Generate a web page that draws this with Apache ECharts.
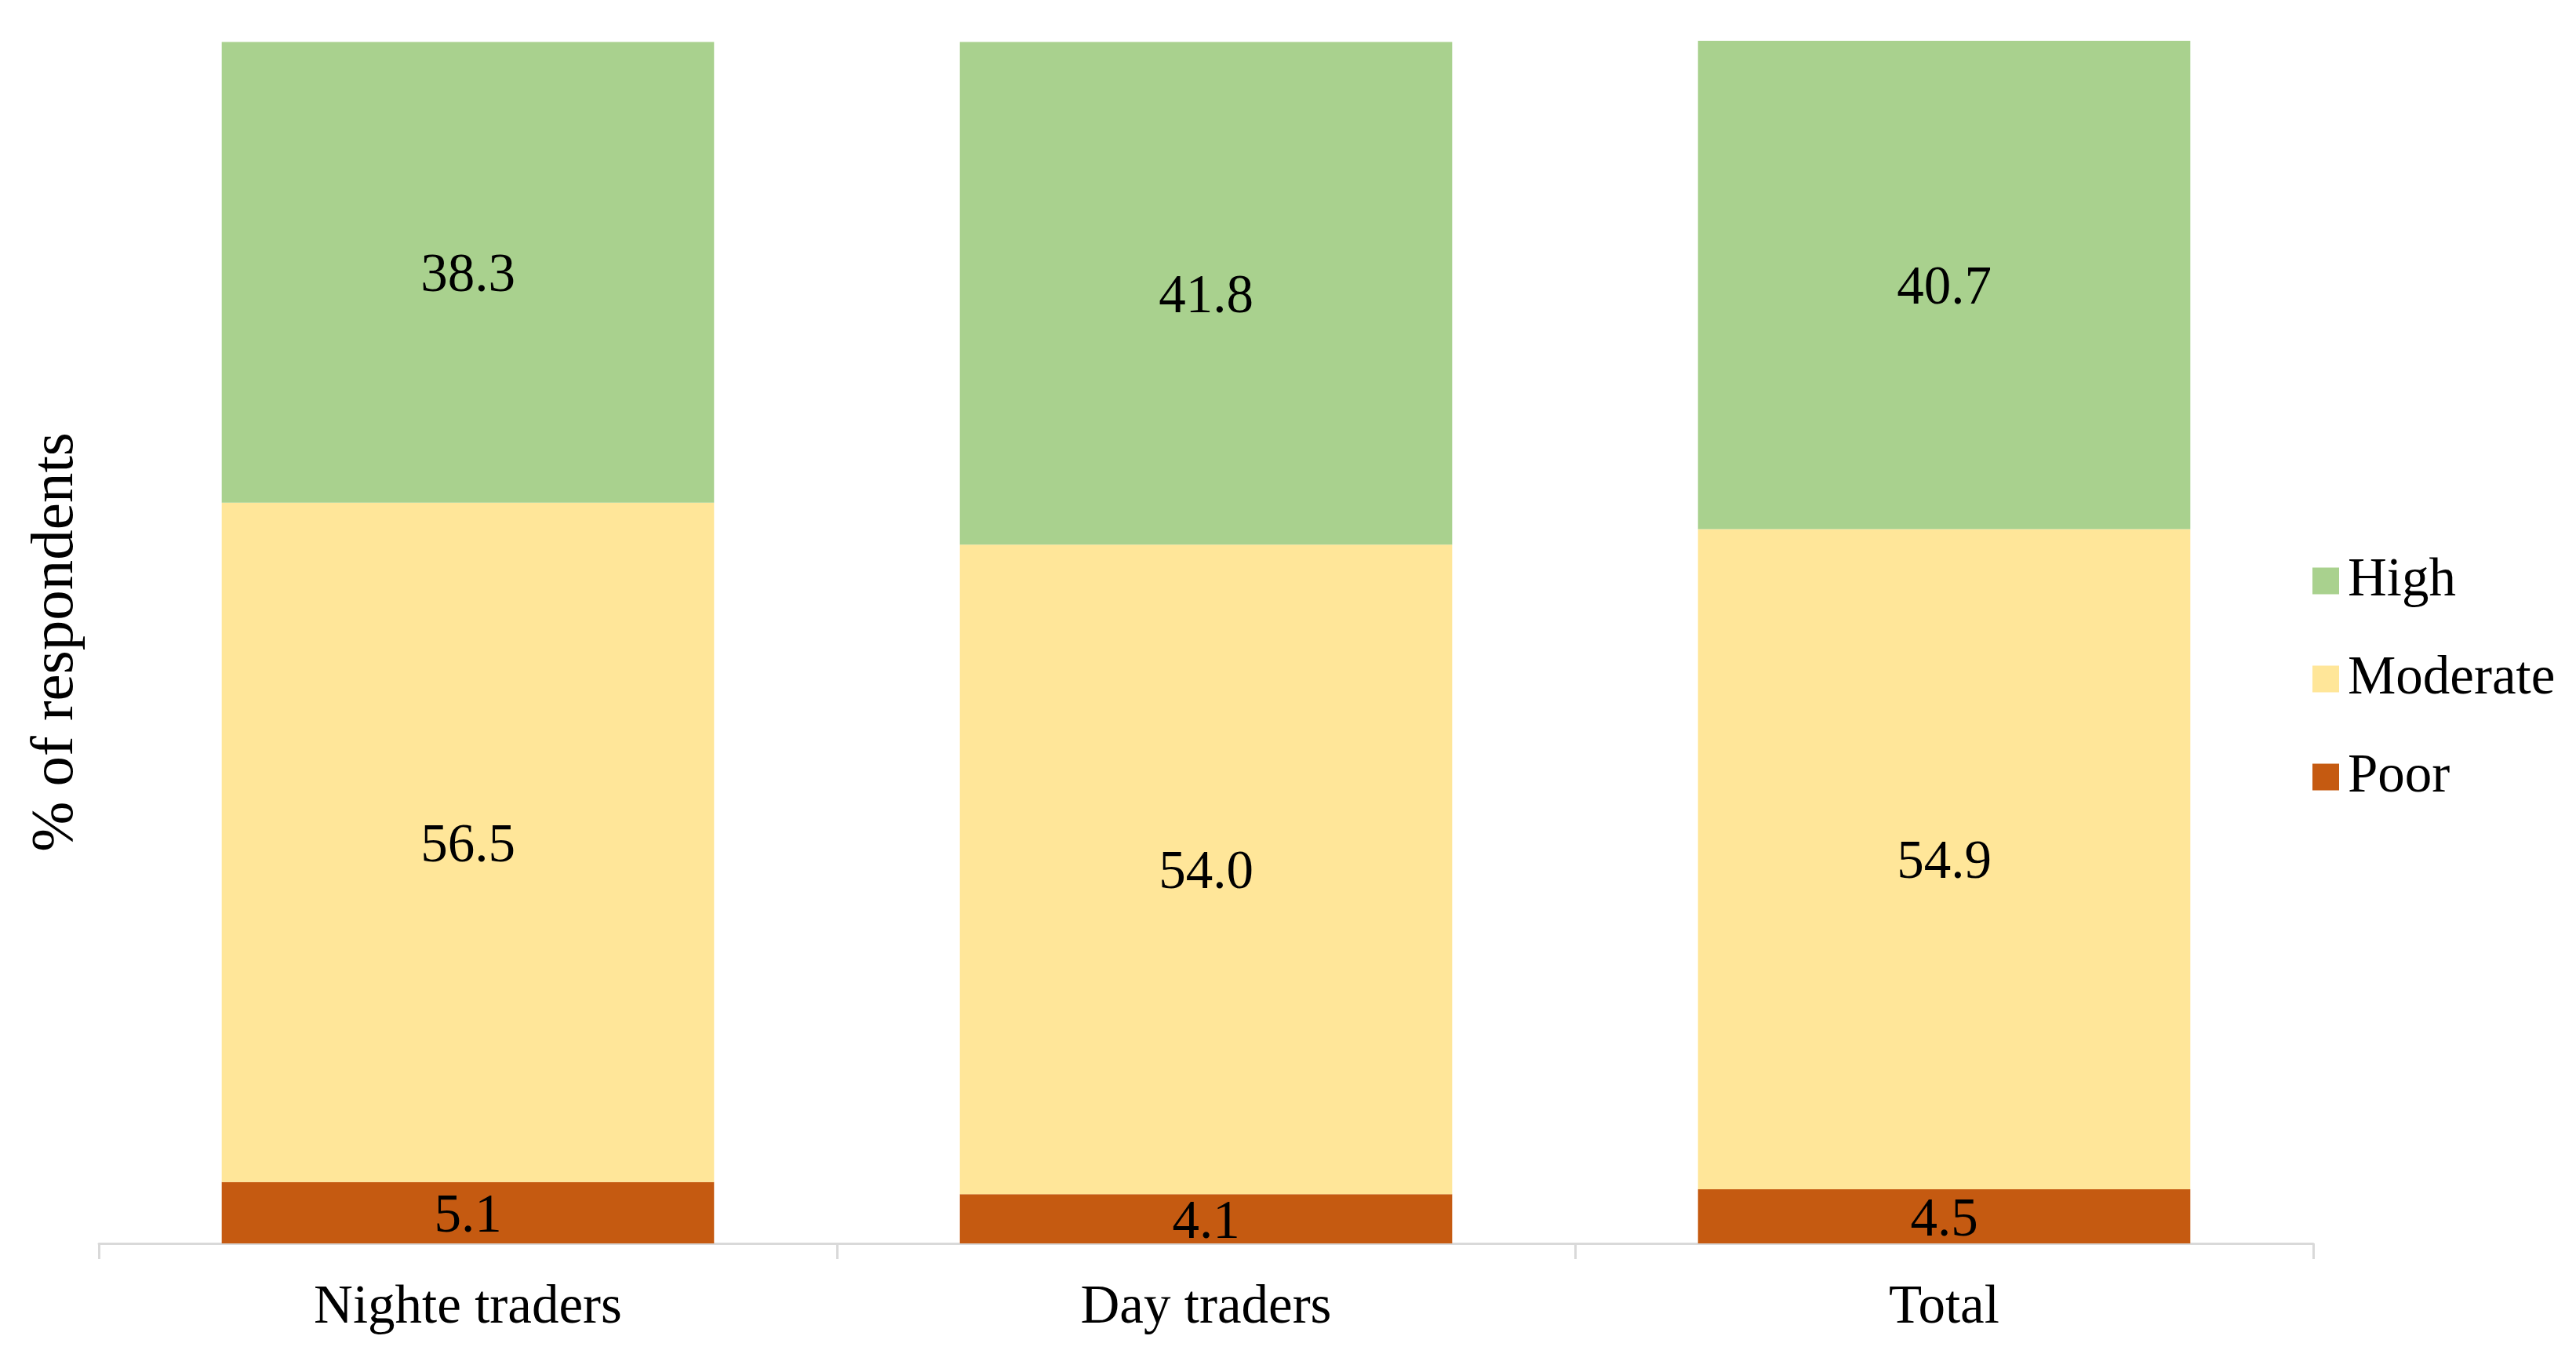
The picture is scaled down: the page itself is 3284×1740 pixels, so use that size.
<!DOCTYPE html>
<html>
<head>
<meta charset="utf-8">
<script src="https://cdn.jsdelivr.net/npm/echarts@6/dist/echarts.min.js"></script>
<style>
html,body{margin:0;padding:0;background:#fff;}
#chart{width:3284px;height:1740px;}
</style>
</head>
<body>
<div id="chart"></div>
<script>
const categories = ['Nighte traders', 'Day traders', 'Total'];
const poor = [5.1, 4.1, 4.5];
const moderate = [56.5, 54.0, 54.9];
const high = [38.3, 41.8, 40.7];
const legendOrder = ['High', 'Moderate', 'Poor'];

const FONT = '"Liberation Serif", "Times New Roman", serif';
const chart = echarts.init(document.getElementById('chart'));

function mkSeries(name, data, color) {
  return {
    name: name,
    type: 'bar',
    stack: 'total',
    data: data,
    barWidth: '66.7%',
    itemStyle: { color: color },
    label: {
      show: true,
      position: 'inside',
      offset: [0, 6],
      color: '#000',
      fontFamily: FONT,
      fontSize: 69,
      formatter: p => p.value.toFixed(1)
    },
    emphasis: { disabled: true }
  };
}

chart.setOption({
  animation: false,
  backgroundColor: '#fff',
  grid: { left: 126, right: 335, top: 52, bottom: 155, containLabel: false },
  legend: {
    data: legendOrder,
    orient: 'vertical',
    left: 2943,
    top: 701,
    itemWidth: 34,
    itemHeight: 34,
    itemGap: 56,
    icon: 'rect',
    textStyle: { fontFamily: FONT, fontSize: 69, color: '#000', lineHeight: 68, padding: [0, 0, 0, 6] }
  },
  xAxis: {
    type: 'category',
    data: categories,
    axisLine: { lineStyle: { color: '#d9d9d9', width: 3 } },
    axisTick: { show: true, length: 20, lineStyle: { color: '#d9d9d9', width: 3 } },
    axisLabel: { fontFamily: FONT, fontSize: 69, color: '#000', margin: 48 }
  },
  yAxis: {
    type: 'value',
    min: 0,
    max: 100,
    name: '% of respondents',
    nameLocation: 'middle',
    nameGap: 16,
    nameTextStyle: { fontFamily: FONT, fontSize: 77, color: '#000' },
    axisLine: { show: false },
    axisTick: { show: false },
    axisLabel: { show: false },
    splitLine: { show: false }
  },
  series: [
    mkSeries('Poor', poor, '#C55A11'),
    mkSeries('Moderate', moderate, '#FFE699'),
    mkSeries('High', high, '#A9D18E')
  ]
});
</script>
</body>
</html>
